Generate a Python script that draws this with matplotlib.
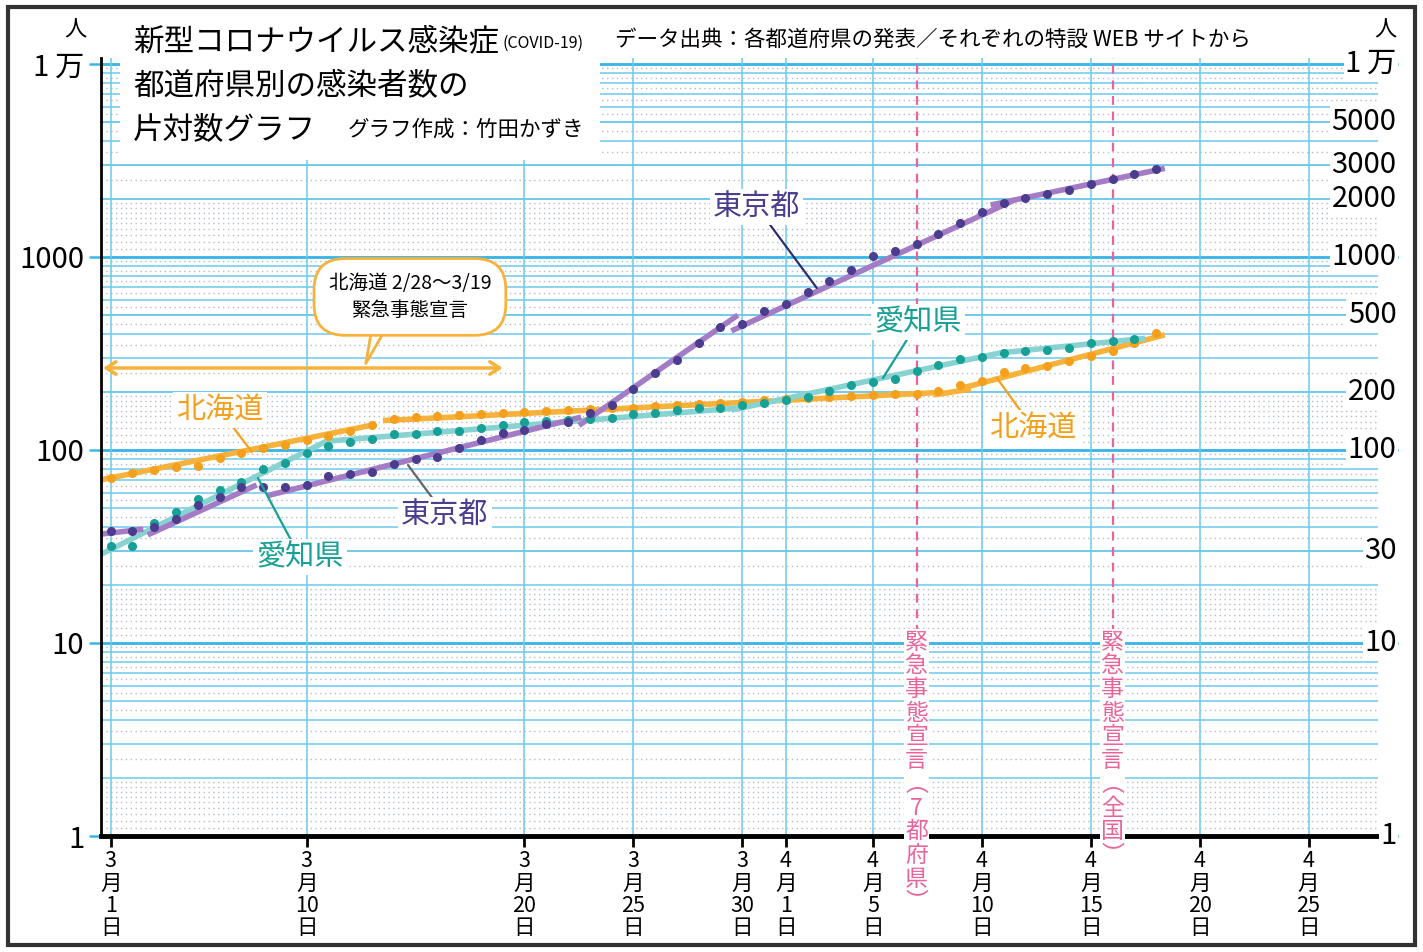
import matplotlib
matplotlib.use("Agg")
import matplotlib.pyplot as plt
from matplotlib import transforms
from matplotlib.patches import Rectangle
from matplotlib.ticker import NullLocator

plt.rcParams['font.family'] = ['Noto Sans CJK JP', 'DejaVu Sans']

# 3月1日を0日目とした日ごとの累計感染者数
tokyo = [38, 38, 40, 44, 52, 57, 64, 64, 64, 66, 73, 75, 77, 85, 90, 92, 103, 113,
         122, 127, 136, 139, 155, 171, 207, 252, 291, 360, 433, 448, 524, 569, 656,
         748, 857, 1012, 1070, 1167, 1320, 1500, 1718, 1911, 2028, 2112, 2224, 2389,
         2545, 2692, 2858]
aichi = [32, 32, 42, 48, 56, 62, 68, 80, 86, 96, 105, 110, 114, 121, 121, 125, 126,
         130, 134, 139, 142, 143, 144, 147, 154, 156, 161, 165, 166, 171, 176, 182,
         188, 201, 217, 226, 234, 258, 275, 296, 304, 319, 327, 330, 339, 357, 367, 374]
hokkaido = [72, 76, 79, 82, 83, 91, 96, 102, 106, 113, 118, 126, 135, 144, 148, 150,
            152, 154, 156, 158, 159, 161, 163, 165, 166, 169, 171, 173, 176, 178, 181,
            184, 187, 189, 191, 193, 195, 195, 202, 217, 229, 253, 265, 274, 289, 308,
            326, 360, 405]

# 近似直線 (開始日, 終了日, 開始値, 終了値)
tokyo_fit = [(-0.5, 1.5, 36.6, 38.9), (1.7, 6.7, 36.3, 65.9), (7.2, 21.6, 58, 148),
             (21.5, 28.8, 134, 500), (28.5, 41.5, 414, 1974), (40.4, 48.4, 1858, 2879)]
aichi_fit = [(-0.45, 9.9, 28.8, 111), (9.9, 28.8, 111, 165), (28.5, 41.1, 161, 323),
             (41.0, 47.5, 320, 379)]
hokkaido_fit = [(-0.46, 12.2, 70, 136), (12.5, 37.8, 142, 198), (37.8, 39.5, 193, 207),
                (39.0, 48.4, 208, 395)]

tick_days = [0, 9, 19, 24, 29, 31, 35, 40, 45, 50, 55]
tick_labels = ['3\n月\n1\n日', '3\n月\n10\n日', '3\n月\n20\n日', '3\n月\n25\n日',
               '3\n月\n30\n日', '4\n月\n1\n日', '4\n月\n5\n日', '4\n月\n10\n日',
               '4\n月\n15\n日', '4\n月\n20\n日', '4\n月\n25\n日']
left_ticks = [1, 10, 100, 1000, 10000]
left_labels = ['1', '10', '100', '1000', '1\u2009万']
right_ticks = [1, 10, 30, 100, 200, 500, 1000, 2000, 3000, 5000, 10000]
right_labels = ['1', '10', '30', '100', '200', '500', '1000', '2000', '3000', '5000', '1\u2009万']
emergency_days = [37, 46]
emergency_labels = ['緊\n急\n事\n態\n宣\n言\n︵\n7\n都\n府\n県\n︶',
                    '緊\n急\n事\n態\n宣\n言\n︵\n全\n国\n︶']

TOKYO_DOT, TOKYO_LINE = '#4b3c8e', '#a47cc6'
AICHI_DOT, AICHI_LINE = '#17a096', '#88d3d2'
HOK_DOT, HOK_LINE = '#f4a01c', '#f7b23c'
PINK = '#e8649c'
GRID = '#6cc9ee'
GRID_DARK = '#3cb6e6'

fig = plt.figure(figsize=(14.23, 9.52), dpi=100)
ax = fig.add_axes([101 / 1423, 1 - 836 / 952, 1277 / 1423, 778 / 952])
ax.set_yscale('log')
ax.set_xlim(-0.445, 58.19)
ax.set_ylim(1, 10740)

# 方眼
blend = transforms.blended_transform_factory(ax.transAxes, ax.transData)
for k in range(4):
    base = 10 ** k
    for m in range(2, 10):
        ax.axhline(m * base, color=GRID, lw=1.1, zorder=1)
    for m in range(11, 20):
        ax.axhline(m / 10 * base, color='#b4bcc6', lw=1.0, ls=(0, (1, 2.5)), zorder=1)
    for m in range(25, 100, 10):
        ax.axhline(m / 10 * base, color='#b4bcc6', lw=1.0, ls=(0, (1, 2.5)), zorder=1)
for k in range(5):
    ax.axhline(10 ** k, color=GRID_DARK, lw=1.8, zorder=1)
for v in right_ticks:
    ax.plot([0, 1.015], [v, v], transform=blend, color=GRID_DARK if v in left_ticks else GRID,
            lw=1.8 if v in left_ticks else 1.1, clip_on=False, zorder=1)
for d in tick_days:
    ax.axvline(d, color=GRID, lw=1.1, zorder=1)

# 緊急事態宣言
for d, lab in zip(emergency_days, emergency_labels):
    ax.axvline(d, color=PINK, lw=1.6, ls=(0, (4, 3)), zorder=2)
    ax.text(d, 11.6, lab, color=PINK, fontsize=16.5, ha='center', va='top', linespacing=1.04,
            bbox=dict(fc='white', ec='none', pad=1), zorder=6, clip_on=False)

# 近似直線と点
for fits, col in [(hokkaido_fit, HOK_LINE), (aichi_fit, AICHI_LINE), (tokyo_fit, TOKYO_LINE)]:
    for d0, d1, v0, v1 in fits:
        ax.plot([d0, d1], [v0, v1], color=col, lw=4, solid_capstyle='butt', zorder=3)
for data, col in [(hokkaido, HOK_DOT), (aichi, AICHI_DOT), (tokyo, TOKYO_DOT)]:
    ax.plot(range(len(data)), data, 'o', color=col, ms=5.5, zorder=4)

# ラベル
lab_box = dict(fc='white', ec='none', pad=2)
labels = [('東京都', (29.67, 1816), (32.42, 691), TOKYO_DOT, '#2e2e6e'),
          ('東京都', (15.35, 46), (13.65, 83.6), TOKYO_DOT, '#666666'),
          ('愛知県', (8.69, 27.9), (6.76, 71.6), AICHI_DOT, AICHI_DOT),
          ('愛知県', (37.07, 460), (35.46, 236), AICHI_DOT, AICHI_DOT),
          ('北海道', (5.02, 161), (6.49, 97.6), HOK_DOT, HOK_DOT),
          ('北海道', (42.35, 130), (40.69, 236), HOK_DOT, HOK_DOT)]
for txt, pos, tgt, tc, lc in labels:
    ax.annotate(txt, xy=tgt, xytext=pos, fontsize=21, color=tc, ha='center', va='center',
                bbox=lab_box, zorder=5,
                arrowprops=dict(arrowstyle='-', color=lc, lw=1.6, shrinkA=0, shrinkB=0))

# 北海道の緊急事態宣言
ax.annotate('', xy=(-0.35, 266), xytext=(18.0, 266),
            arrowprops=dict(arrowstyle='<->,head_length=0.7,head_width=0.45', color=HOK_LINE,
                            lw=2.5, shrinkA=0, shrinkB=0), zorder=5)
ax.annotate('北海道 2/28～3/19\n緊急事態宣言', xy=(11.67, 272), xytext=(13.74, 621),
            fontsize=14, ha='center', va='center', linespacing=1.35, zorder=5,
            bbox=dict(boxstyle='round,pad=0.75,rounding_size=1.6', fc='white', ec=HOK_LINE, lw=2),
            arrowprops=dict(arrowstyle='wedge,tail_width=1.0', fc='white', ec=HOK_LINE, lw=2,
                            patchA=None, relpos=(0.35, 0.25)))

# 軸
for s in ['top', 'right']:
    ax.spines[s].set_visible(False)
ax.spines['left'].set_linewidth(2)
ax.spines['bottom'].set_linewidth(3.5)
ax.spines['left'].set_zorder(5)
ax.spines['bottom'].set_zorder(5)
ax.yaxis.set_minor_locator(NullLocator())
ax.set_yticks(left_ticks)
ax.set_yticklabels(left_labels, fontsize=21)
ax.tick_params(axis='y', length=9, width=1.8, color=GRID_DARK, pad=3)
ax.set_xticks(tick_days)
ax.set_xticklabels(tick_labels, fontsize=15.5, linespacing=1.03)
ax.tick_params(axis='x', length=8, width=2, color='black', pad=2)

for v, lab in zip(right_ticks, right_labels):
    ax.text(1.0145, v, lab, transform=blend, ha='right', va='center', fontsize=21,
            bbox=dict(fc='white', ec='none', pad=1), zorder=6, clip_on=False)

# 見出し
ax.add_patch(Rectangle((0.0149, 0.869), 0.376, 0.2, transform=ax.transAxes, fc='white',
                       ec='none', zorder=2.5, clip_on=False))
fig.text(75 / 1423, 1 - 30 / 952, '人', fontsize=16, ha='center', va='center')
fig.text(1385 / 1423, 1 - 30 / 952, '人', fontsize=16, ha='center', va='center')
fig.text(133 / 1423, 1 - 43 / 952, '新型コロナウイルス感染症', fontsize=22, va='center')
fig.text(503 / 1423, 1 - 43 / 952, '(COVID-19)', fontsize=11.5, va='center')
fig.text(133 / 1423, 1 - 87 / 952, '都道府県別の感染者数の', fontsize=22, va='center')
fig.text(133 / 1423, 1 - 130 / 952, '片対数グラフ', fontsize=22, va='center')
fig.text(348 / 1423, 1 - 130 / 952, 'グラフ作成：竹田かずき', fontsize=15.5, va='center')
fig.text(615 / 1423, 1 - 40 / 952, 'データ出典：各都道府県の発表／それぞれの特設 WEB サイトから',
         fontsize=15.5, va='center')

fig.patches.append(Rectangle((8 / 1423, 7 / 952), 1407 / 1423, 938 / 952,
                             transform=fig.transFigure, fill=False, ec='#333333', lw=3))

fig.savefig('out.png', dpi=100)
